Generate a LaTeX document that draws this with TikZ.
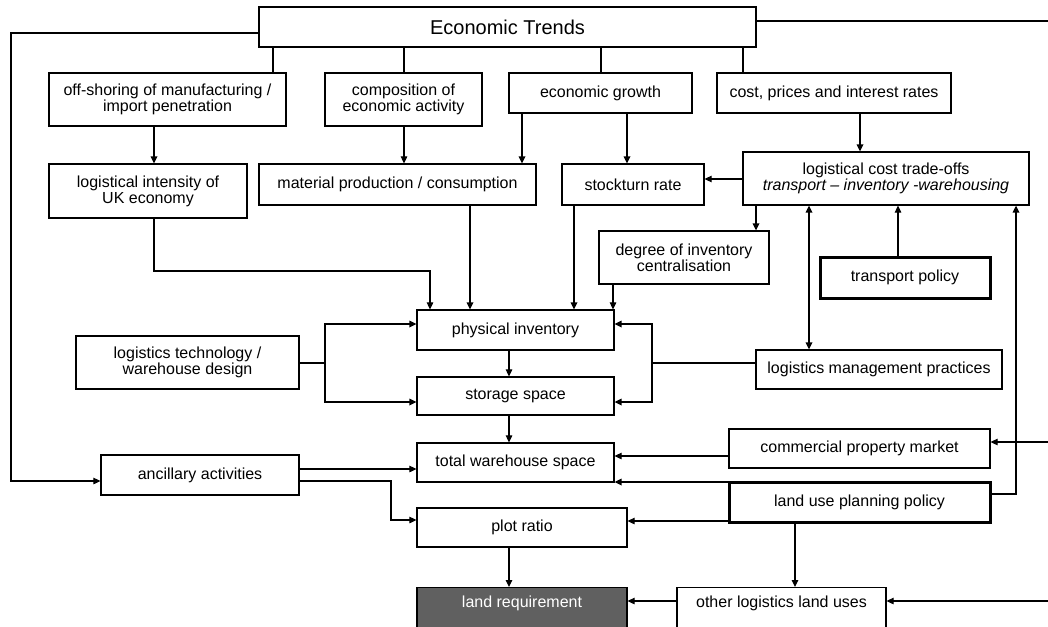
\documentclass[tikz,border=0pt]{standalone}
\usepackage{fontspec}
\setmainfont{Liberation Sans}
\usetikzlibrary{arrows.meta}
\definecolor{landgray}{RGB}{96,96,96}
\newcommand\fsn{\fontsize{16}{16}\selectfont}
\newcommand\fsbig{\fontsize{20}{22}\selectfont}
\tikzset{
  box/.style={draw, line width=1.2pt, inner sep=0pt, align=center, font=\fsn, fill=white},
  tbox/.style={box, line width=3pt},
  cutbox/.style={box, anchor=north, minimum height=53, text height=11.5pt, text depth=25pt},
  conn/.style={line width=1.1pt},
  arr/.style={conn, -{Triangle[length=7pt,width=6.5pt]}},
  tarr/.style={arr, line width=1.6pt},
}
\begin{document}
\begin{tikzpicture}[x=1pt,y=-1pt]
\useasboundingbox (0,0) rectangle (1048,626);
\clip (0,0) rectangle (1048,626);
\fill[white] (0,0) rectangle (1048,626);
% nodes
\node[box, font=\fsbig, minimum width=497, minimum height=40] (et) at (507.5,27) {Economic Trends};
\node[box, minimum width=237, minimum height=53] (off) at (167.5,99.5) {off-shoring of manufacturing /\\import penetration};
\node[box, minimum width=157, minimum height=53] (comp) at (403.5,99.5) {composition of\\economic activity};
\node[box, minimum width=183, minimum height=40] (grow) at (600.5,93) {economic growth};
\node[box, minimum width=234, minimum height=40] (cost) at (834,93) {cost, prices and interest rates};
\node[box, minimum width=198, minimum height=54] (lint) at (148,191) {logistical intensity of\\UK economy};
\node[box, minimum width=277, minimum height=41] (mat) at (397.5,184.5) {material production / consumption};
\node[box, minimum width=142, minimum height=41] (stock) at (633,184.5) {stockturn rate};
\node[box, minimum width=286, minimum height=53] (lcost) at (886,178.5) {logistical cost trade-offs\\\textit{transport – inventory -warehousing}};
\node[box, minimum width=170, minimum height=53] (deg) at (684,257.5) {degree of inventory\\centralisation};
\node[tbox, minimum width=170, minimum height=41] (tpol) at (905,277.5) {transport policy};
\node[box, minimum width=197, minimum height=40] (phys) at (515.5,330) {physical inventory};
\node[box, minimum width=197, minimum height=38] (stor) at (515.5,396) {storage space};
\node[box, minimum width=223, minimum height=53] (ltech) at (187.5,362.5) {logistics technology /\\warehouse design};
\node[box, minimum width=246, minimum height=39] (lmp) at (879,369.5) {logistics management practices};
\node[box, minimum width=197, minimum height=39] (tot) at (515.5,462.5) {total warehouse space};
\node[box, minimum width=198, minimum height=40] (anc) at (200,475) {ancillary activities};
\node[box, minimum width=210, minimum height=39] (plot) at (522,527.5) {plot ratio};
\node[box, minimum width=261, minimum height=39] (cpm) at (859.5,448.5) {commercial property market};
\node[tbox, minimum width=261, minimum height=40] (lupp) at (859.5,502) {land use planning policy};
\node[cutbox, fill=landgray, text=white, minimum width=210] (land) at (522,587) {land requirement};
\node[cutbox, minimum width=209] (other) at (781.5,587) {other logistics land uses};
% connectors from Economic Trends
\draw[arr] (et.west |- 0,33) -| (11,481) -- (anc.west |- 0,481);
\draw[conn] (et.east |- 0,21) -- (1060,21);
\draw[conn] (et.south -| 273,0) -- (off.north -| 273,0);
\draw[conn] (et.south -| 404,0) -- (comp.north -| 404,0);
\draw[conn] (et.south -| 601,0) -- (grow.north -| 601,0);
\draw[conn] (et.south -| 743,0) -- (cost.north -| 743,0);
% second row
\draw[tarr] (off.south -| 154,0) -- (lint.north -| 154,0);
\draw[arr] (comp.south -| 404,0) -- (mat.north -| 404,0);
\draw[tarr] (grow.south -| 522,0) -- (mat.north -| 522,0);
\draw[tarr] (grow.south -| 627,0) -- (stock.north -| 627,0);
\draw[tarr] (cost.south -| 860,0) -- (lcost.north -| 860,0);
\draw[arr] (lcost.west |- 0,179) -- (stock.east |- 0,179);
% into physical inventory
\draw[arr] (lint.south -| 154,0) |- (430,271) -- (phys.north -| 430,0);
\draw[tarr] (mat.south -| 470,0) -- (phys.north -| 470,0);
\draw[tarr] (stock.south -| 574,0) -- (phys.north -| 574,0);
\draw[tarr] (lcost.south -| 756,0) -- (deg.north -| 756,0);
\draw[arr] (deg.south -| 613,0) -- (phys.north -| 613,0);
% technology and management practices
\draw[conn] (ltech.east |- 0,363) -- (325,363);
\draw[tarr] (325,363) |- (phys.west |- 0,324);
\draw[tarr] (325,363) |- (stor.west |- 0,402);
\draw[conn] (lmp.west |- 0,363) -- (652,363);
\draw[tarr] (652,363) |- (phys.east |- 0,324);
\draw[tarr] (652,363) |- (stor.east |- 0,402);
\draw[tarr, {Triangle[length=7pt,width=6.5pt]}-{Triangle[length=7pt,width=6.5pt]}] (lcost.south -| 809,0) -- (lmp.north -| 809,0);
\draw[arr] (tpol.north -| 898,0) -- (lcost.south -| 898,0);
\draw[tarr] (lupp.east |- 0,494) -| (lcost.south -| 1016,0);
% lower part
\draw[arr] (phys.south -| 509,0) -- (stor.north -| 509,0);
\draw[arr] (stor.south -| 509,0) -- (tot.north -| 509,0);
\draw[arr] (anc.east |- 0,469) -- (tot.west |- 0,469);
\draw[arr] (anc.east |- 0,481) -| (391,520) -- (plot.west |- 0,520);
\draw[arr] (cpm.west |- 0,456) -- (tot.east |- 0,456);
\draw[tarr] (lupp.west |- 0,482) -- (tot.east |- 0,482);
\draw[arr] (lupp.west |- 0,521) -- (plot.east |- 0,521);
\draw[arr] (lupp.south -| 795,0) -- (other.north -| 795,0);
\draw[arr] (plot.south -| 509,0) -- (land.north -| 509,0);
\draw[arr] (other.west |- 0,601) -- (land.east |- 0,601);
\draw[arr] (1060,442) -- (cpm.east |- 0,442);
\draw[arr] (1060,601) -- (other.east |- 0,601);
\draw[conn] (1060,21) -- (1060,601);
\end{tikzpicture}
\end{document}
